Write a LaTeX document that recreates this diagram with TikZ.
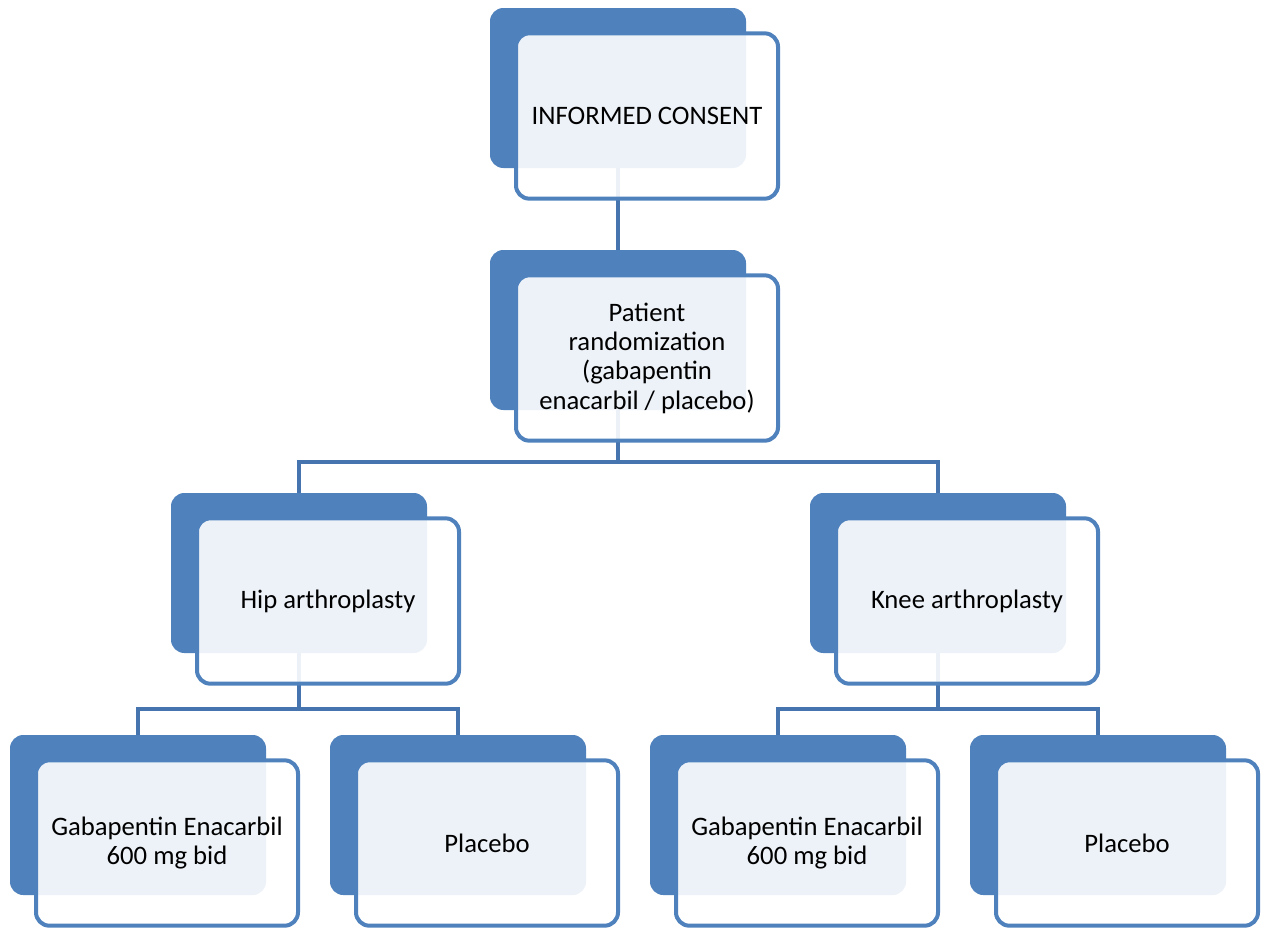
\documentclass[tikz,border=0pt]{standalone}
\usepackage{fontspec}
\setmainfont{Carlito}
\usepackage{tikz}
\usetikzlibrary{backgrounds}
\definecolor{StageBlue}{HTML}{4F81BD}
\definecolor{LinkBlue}{HTML}{4674AF}
\definecolor{TextDark}{HTML}{000000}

\begin{document}
\begin{tikzpicture}[x=0.75pt,y=-0.75pt,
          every node/.style={font=\fontsize{20}{22}\selectfont},
          backbox/.style={fill=StageBlue, rounded corners=10pt,
            minimum width=192pt, minimum height=120pt, inner sep=0pt},
          frontbox/.style={draw=StageBlue, line width=3pt, fill=white,
            fill opacity=0.9, text opacity=1, rounded corners=10pt,
            minimum width=196.5pt, minimum height=124pt, inner sep=2pt,
            align=center, text=TextDark},
          link/.style={LinkBlue, line width=3.2pt}]
        \useasboundingbox (0,0) rectangle (1266,928);
        % level 1
        \node[backbox] (consentbk) at (618,88) {};
        \node[frontbox] (consent) at ([shift={(29,28)}]consentbk.center)
        {INFORMED CONSENT};
        % level 2
        \node[backbox] (randbk) at (618,330) {};
        \node[frontbox] (rand) at ([shift={(29,28)}]randbk.center)
        {Patient\\ randomization\\ (gabapentin\\ enacarbil / placebo)};
        % level 3
        \node[backbox] (hipbk) at (299,573) {};
        \node[frontbox] (hip) at ([shift={(29,28)}]hipbk.center)
        {Hip arthroplasty};
        \node[backbox] (kneebk) at (938,573) {};
        \node[frontbox] (knee) at ([shift={(29,28)}]kneebk.center)
        {Knee arthroplasty};
        % level 4
        \node[backbox] (hipdrugbk) at (138,815) {};
        \node[frontbox] (hipdrug) at ([shift={(29,28)}]hipdrugbk.center)
        {Gabapentin Enacarbil\\ 600 mg bid};
        \node[backbox] (hipplacbk) at (458,815) {};
        \node[frontbox] (hipplac) at ([shift={(29,28)}]hipplacbk.center)
        {Placebo};
        \node[backbox] (kneedrugbk) at (778,815) {};
        \node[frontbox] (kneedrug) at ([shift={(29,28)}]kneedrugbk.center)
        {Gabapentin Enacarbil\\ 600 mg bid};
        \node[backbox] (kneeplacbk) at (1098,815) {};
        \node[frontbox] (kneeplac) at ([shift={(29,28)}]kneeplacbk.center)
        {Placebo};
        % connectors behind the boxes
        \begin{scope}[on background layer]
          \draw[link] (consentbk.south) -- (randbk.north);
          \draw[link] (randbk.south) -- ++(0,52) coordinate (randbus);
          \draw[link] (randbus) -| (hipbk.north);
          \draw[link] (randbus) -| (kneebk.north);
          \draw[link] (hipbk.south) -- ++(0,56) coordinate (hipbus);
          \draw[link] (hipbus) -| (hipdrugbk.north);
          \draw[link] (hipbus) -| (hipplacbk.north);
          \draw[link] (kneebk.south) -- ++(0,56) coordinate (kneebus);
          \draw[link] (kneebus) -| (kneedrugbk.north);
          \draw[link] (kneebus) -| (kneeplacbk.north);
        \end{scope}
      \end{tikzpicture}
\end{document}
